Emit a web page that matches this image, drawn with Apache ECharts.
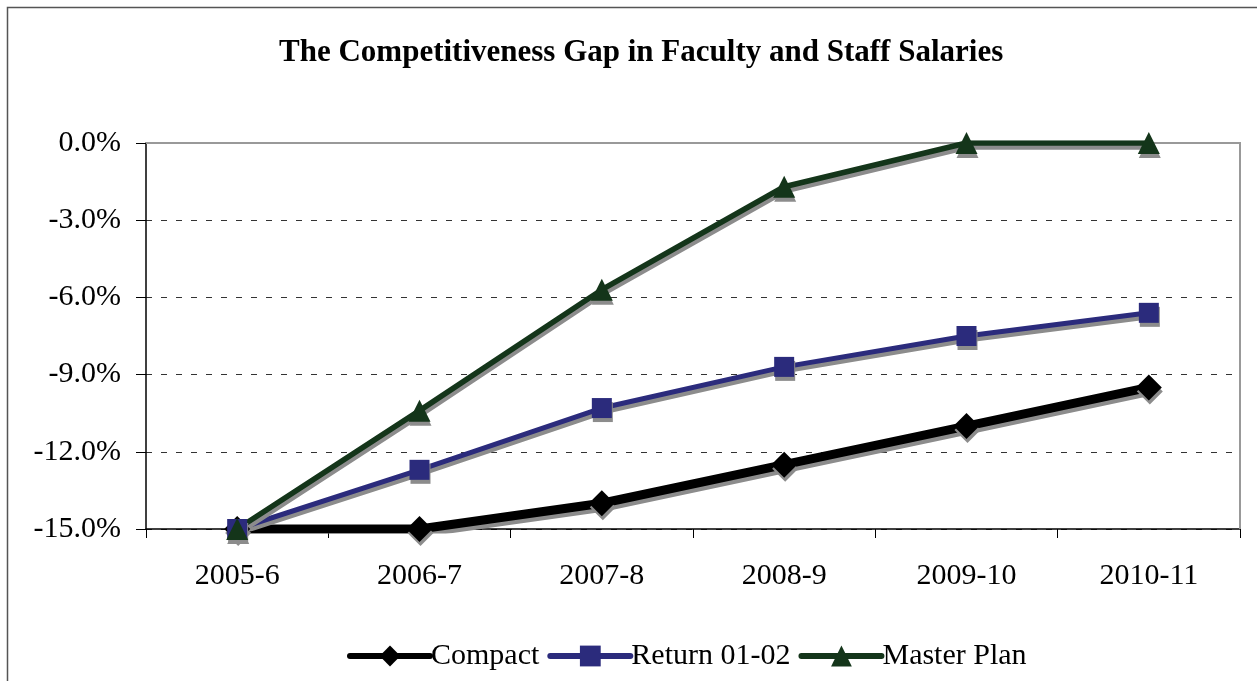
<!DOCTYPE html>
<html lang="en">
<head>
<meta charset="UTF-8">
<title>The Competitiveness Gap in Faculty and Staff Salaries</title>
<style>
html, body { margin: 0; padding: 0; background: #fff; }
#main { width: 1257px; height: 681px; }
</style>
</head>
<body>
<div id="main"></div>

<script src="https://cdn.jsdelivr.net/npm/echarts@6/dist/echarts.min.js"></script>
<script>
var years = ['2005-6', '2006-7', '2007-8', '2008-9', '2009-10', '2010-11'];
var compact = [-15.0, -15.0, -14.0, -12.5, -11.0, -9.5];
var return0102 = [-15.0, -12.7, -10.3, -8.7, -7.5, -6.6];
var masterPlan = [-15.0, -10.4, -5.7, -1.7, 0.0, 0.0];

var font = 'Liberation Serif, Times New Roman, serif';
var myChart = echarts.init(document.getElementById('main'));

// gray drop shadow under every line and marker, like the original
function makeSeries(name, data, color, width, symbol, size) {
    return {
        name: name,
        type: 'line',
        data: data,
        symbol: symbol,
        symbolSize: size,
        lineStyle: {
            color: color,
            width: width,
            shadowColor: '#8c8c8c',
            shadowBlur: 0,
            shadowOffsetX: 1,
            shadowOffsetY: 4
        },
        itemStyle: {
            color: color,
            borderWidth: 0,
            shadowColor: '#8c8c8c',
            shadowBlur: 0,
            shadowOffsetX: 1,
            shadowOffsetY: 4
        },
        emphasis: { disabled: true }
    };
}

option = {
    animation: false,
    title: {
        text: 'The Competitiveness Gap in Faculty and Staff Salaries',
        left: 274,
        top: 32,
        textStyle: {
            fontFamily: font,
            fontSize: 31,
            fontWeight: 'bold',
            color: '#000'
        }
    },
    legend: {
        bottom: 5,
        left: 342,
        itemWidth: 80,
        itemHeight: 26,
        itemGap: 8,
        lineStyle: { width: 6, cap: 'round' },
        textStyle: { fontFamily: font, fontSize: 30, color: '#000', padding: [0, 0, 0, -4] },
        data: ['Compact', 'Return 01-02', 'Master Plan']
    },
    grid: {
        left: 146,
        right: 17,
        top: 143,
        bottom: 152
    },
    xAxis: {
        type: 'category',
        data: years,
        boundaryGap: true,
        axisLine: { onZero: false, lineStyle: { color: '#000', width: 1.5 } },
        axisTick: { show: true, length: 9, lineStyle: { color: '#000' } },
        axisLabel: { fontFamily: font, fontSize: 30, color: '#000', margin: 32 },
        splitLine: { show: false }
    },
    yAxis: {
        type: 'value',
        min: -15,
        max: 0,
        interval: 3,
        axisLine: { show: true, lineStyle: { color: '#000', width: 1.5 } },
        axisTick: { show: true, length: 10, lineStyle: { color: '#000' } },
        axisLabel: {
            fontFamily: font,
            fontSize: 30,
            color: '#000',
            margin: 25,
            formatter: function (v) { return v.toFixed(1) + '%'; }
        },
        splitLine: { show: true, lineStyle: { color: '#333', type: [6, 9], width: 1 } }
    },
    graphic: [
        {
            type: 'rect',
            shape: { x: 7.5, y: 7.5, width: 1260, height: 690 },
            style: { fill: 'none', stroke: '#555', lineWidth: 1.5 },
            silent: true
        },
        {
            type: 'polyline',
            shape: { points: [[146, 143], [1240, 143], [1240, 529]] },
            style: { fill: 'none', stroke: '#999', lineWidth: 2 },
            silent: true,
            z: 1
        }
    ],
    series: [
        makeSeries('Compact', compact, '#000000', 9, 'diamond', 26),
        makeSeries('Return 01-02', return0102, '#2B2B7C', 5, 'rect', 20),
        makeSeries('Master Plan', masterPlan, '#14351A', 5.5, 'triangle', 22)
    ]
};

myChart.setOption(option);
</script>
</body>
</html>
